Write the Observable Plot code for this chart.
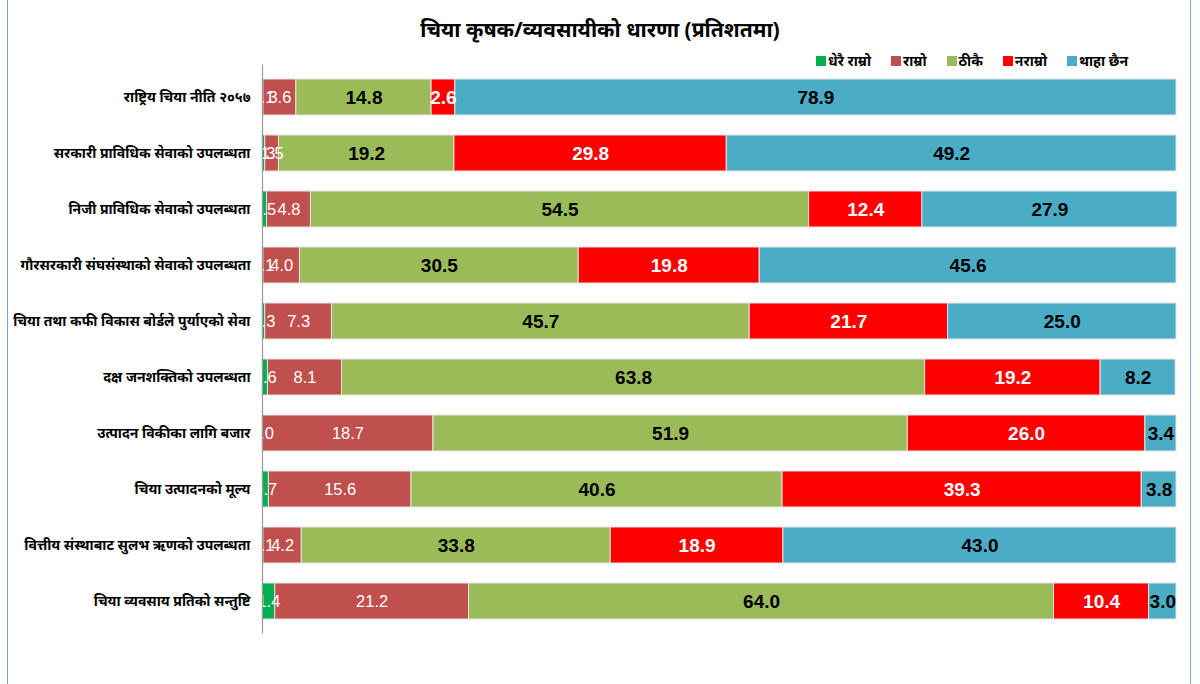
<!DOCTYPE html>
<html>
<head>
<meta charset="utf-8">
<script src="https://cdn.jsdelivr.net/npm/d3@7"></script>
<script src="https://cdn.jsdelivr.net/npm/@observablehq/plot@0.6"></script>
<style>
  html, body { margin: 0; padding: 0; background: #fff; }
  #wrap { position: relative; width: 1200px; height: 684px; overflow: hidden; font-family: "Noto Sans", "Noto Sans Devanagari", "Liberation Sans", sans-serif; }
  #frame { position: absolute; left: 7px; top: 0; width: 1184px; height: 700px; border-left: 1.5px solid #7aa3d6; border-right: 1.5px solid #7aa3d6; box-sizing: border-box; pointer-events: none; }
  #title { position: absolute; left: 0; width: 1200px; top: 15px; text-align: center; font-size: 21px; font-weight: 700; color: #000; }
  #legend { position: absolute; left: 816px; top: 51px; display: flex; gap: 20px; font-size: 14px; font-weight: 700; color: #000; }
  #legend .item { display: flex; align-items: center; gap: 2px; }
  #legend .sw { width: 10px; height: 10px; display: inline-block; }
  #chart { position: absolute; left: 0; top: 0; }
</style>
</head>
<body>
<div id="wrap">
  <div id="chart"></div>
  <div id="title">चिया कृषक/व्यवसायीको धारणा (प्रतिशतमा)</div>
  <div id="legend"></div>
  <div id="frame"></div>
</div>
<script>
const categories = [
  "राष्ट्रिय चिया नीति २०५७",
  "सरकारी प्राविधिक सेवाको उपलब्धता",
  "निजी प्राविधिक सेवाको उपलब्धता",
  "गौरसरकारी संघसंस्थाको सेवाको उपलब्धता",
  "चिया तथा कफी विकास बोर्डले पुर्याएको सेवा",
  "दक्ष जनशक्तिको उपलब्धता",
  "उत्पादन विकीका लागि बजार",
  "चिया उत्पादनको मूल्य",
  "वित्तीय संस्थाबाट सुलभ ऋणको उपलब्धता",
  "चिया व्यवसाय प्रतिको सन्तुष्टि"
];
const seriesNames = ["धेरै राम्रो", "राम्रो", "ठीकै", "नराम्रो", "थाहा छैन"];
const seriesColors = ["#00B050", "#C0504D", "#9BBB59", "#FF0000", "#4BACC6"];

const veryGood = [0.1, 0.3, 0.5, 0.1, 0.3, 0.6, 0.0, 0.7, 0.1, 1.4];
const good     = [3.6, 1.5, 4.8, 4.0, 7.3, 8.1, 18.7, 15.6, 4.2, 21.2];
const okay     = [14.8, 19.2, 54.5, 30.5, 45.7, 63.8, 51.9, 40.6, 33.8, 64.0];
const bad      = [2.6, 29.8, 12.4, 19.8, 21.7, 19.2, 26.0, 39.3, 18.9, 10.4];
const dontKnow = [78.9, 49.2, 27.9, 45.6, 25.0, 8.2, 3.4, 3.8, 43.0, 3.0];

const seriesValues = [veryGood, good, okay, bad, dontKnow];
const labelFill = ["white", "white", "black", "white", "black"];
const labelBold = [false, false, true, true, true];

const data = [];
categories.forEach((c, i) => {
  seriesNames.forEach((s, j) => {
    data.push({cat: c, status: s, idx: j, value: seriesValues[j][i]});
  });
});

const fmt = d3.format(".1f");

const chart = Plot.plot({
  width: 1200,
  height: 684,
  marginLeft: 262,
  marginRight: 24,
  marginTop: 64.5,
  marginBottom: 50.5,
  style: {fontFamily: "'Noto Sans', 'Noto Sans Devanagari', 'Liberation Sans', sans-serif", background: "transparent"},
  x: {domain: [0, 100], axis: null},
  y: {domain: categories, paddingInner: 0.35, paddingOuter: 0.175, label: null, axis: null},
  color: {domain: seriesNames, range: seriesColors},
  marks: [
    Plot.barX(data, Plot.stackX({x: "value", y: "cat", fill: "status", order: seriesNames, stroke: "#e4e4e4", strokeWidth: 1})),
    Plot.text(data, Plot.stackX({
      x: "value", y: "cat", z: "status", order: seriesNames,
      text: d => labelBold[d.idx] ? null : fmt(d.value),
      fill: d => labelFill[d.idx],
      fontSize: 16.5,
      fontFamily: "'Liberation Sans', Arial, sans-serif"
    })),
    Plot.text(data, Plot.stackX({
      x: "value", y: "cat", z: "status", order: seriesNames,
      text: d => labelBold[d.idx] ? fmt(d.value) : null,
      fill: d => labelFill[d.idx],
      fontSize: 19,
      fontWeight: "bold",
      fontFamily: "'Liberation Sans', Arial, sans-serif"
    })),
    Plot.axisY({tickSize: 0, tickPadding: 12, fontSize: 14, fontWeight: "bold", fill: "#000", label: null}),
    Plot.ruleX([0], {stroke: "#999", strokeWidth: 1.2})
  ]
});
document.getElementById("chart").appendChild(chart);

const legend = document.getElementById("legend");
seriesNames.forEach((s, j) => {
  const it = document.createElement("div");
  it.className = "item";
  const sw = document.createElement("span");
  sw.className = "sw";
  sw.style.background = seriesColors[j];
  const t = document.createElement("span");
  t.textContent = s;
  it.appendChild(sw); it.appendChild(t);
  legend.appendChild(it);
});
</script>
</body>
</html>
